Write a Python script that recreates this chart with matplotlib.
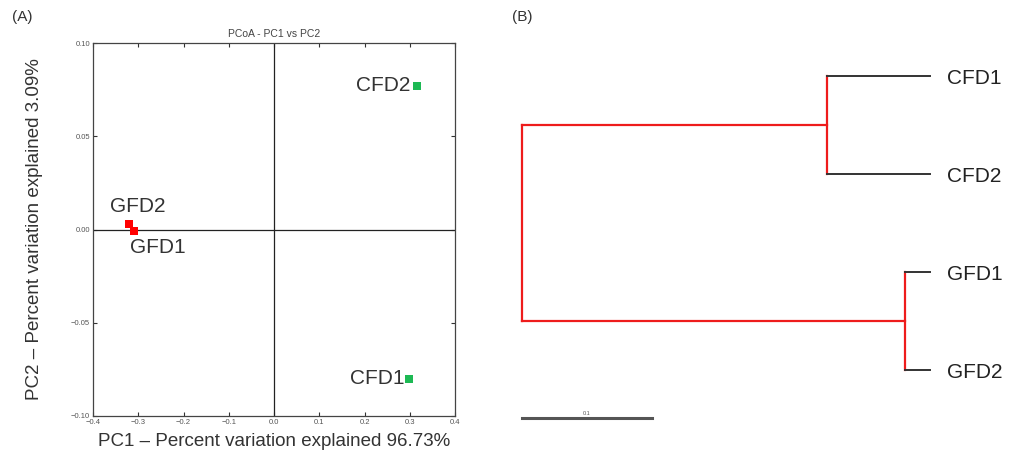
import matplotlib

matplotlib.use("Agg")
import matplotlib.pyplot as plt

plt.rcParams["font.family"] = ["Liberation Sans", "DejaVu Sans"]

# PCoA coordinates (PC1, PC2)
samples = ["CFD2", "CFD1", "GFD2", "GFD1"]
pc1 = [0.316, 0.298, -0.320, -0.309]
pc2 = [0.077, -0.080, 0.003, -0.001]
point_colors = ["#1db954", "#1db954", "#ff0000", "#ff0000"]

x_ticks = [-0.4, -0.3, -0.2, -0.1, 0.0, 0.1, 0.2, 0.3, 0.4]
y_ticks = [-0.10, -0.05, 0.00, 0.05, 0.10]

# Dendrogram: leaves top to bottom, branch lengths
leaves = ["CFD1", "CFD2", "GFD1", "GFD2"]
root_to_cfd = 0.235
cfd_to_leaf = 0.079
root_to_gfd = 0.295
gfd_to_leaf = 0.019
scale_len = 0.1

RED = "#ee1c1c"
DARK = "#333333"

fig = plt.figure(figsize=(10.13, 4.66), dpi=100)

# ---- (A) PCoA scatter ----
ax = fig.add_axes([0.0918, 0.1073, 0.3574, 0.8004])
ax.set_xlim(-0.4, 0.4)
ax.set_ylim(-0.10, 0.10)
ax.axvline(0, color="#222222", lw=0.9)
ax.axhline(0, color="#222222", lw=0.9)
for x, y, c in zip(pc1, pc2, point_colors):
    ax.scatter(x, y, marker="s", s=40, color=c, zorder=3, linewidths=0)

label_offsets = {
    "CFD2": (-5, 0, "right", "center"),
    "CFD1": (-3, 0, "right", "center"),
    "GFD2": (-14, 6, "left", "bottom"),
    "GFD1": (-3, -5, "left", "top"),
}
for name, x, y in zip(samples, pc1, pc2):
    dx, dy, ha, va = label_offsets[name]
    ax.annotate(name, (x, y), xytext=(dx, dy), textcoords="offset points",
                ha=ha, va=va, fontsize=15, color="#333333")

ax.set_xticks(x_ticks)
ax.set_yticks(y_ticks)
ax.set_xticklabels([f"{v:.1f}".replace("-", "\u2212") for v in x_ticks])
ax.set_yticklabels([f"{v:.2f}".replace("-", "\u2212") for v in y_ticks])
ax.tick_params(direction="in", top=True, right=True, length=3, width=0.8,
               labelsize=5.5, labelcolor="#555555", color="#333333", pad=2)
for sp in ax.spines.values():
    sp.set_color("#444444")
    sp.set_linewidth(0.9)
ax.set_title("PCoA - PC1 vs PC2", fontsize=7.5, color="#444444", pad=4)
ax.set_xlabel("PC1 \u2013 Percent variation explained 96.73%", fontsize=13.5,
              color="#333333", labelpad=5)
ax.set_ylabel("PC2 \u2013 Percent variation explained 3.09%", fontsize=13.5,
              color="#333333", labelpad=20)
fig.text(0.012, 0.955, "(A)", fontsize=11, color="#333333")

# ---- (B) dendrogram ----
bx = fig.add_axes([0.4936, 0.0558, 0.5064, 0.8798])
bx.set_xlim(-0.0169, 0.3777)
bx.set_ylim(3.714, -0.469)
bx.axis("off")

leaf_y = list(range(len(leaves)))
cfd_y = (leaf_y[0] + leaf_y[1]) / 2
gfd_y = (leaf_y[2] + leaf_y[3]) / 2
cfd_x = root_to_cfd
gfd_x = root_to_gfd

# root vertical and branches to internal nodes
bx.plot([0, 0], [cfd_y, gfd_y], color=RED, lw=1.6)
bx.plot([0, cfd_x], [cfd_y, cfd_y], color=RED, lw=1.6)
bx.plot([0, gfd_x], [gfd_y, gfd_y], color=RED, lw=1.6)
bx.plot([cfd_x, cfd_x], [leaf_y[0], leaf_y[1]], color=RED, lw=1.6)
bx.plot([gfd_x, gfd_x], [leaf_y[2], leaf_y[3]], color=RED, lw=1.6)
# leaf branches
for i in (0, 1):
    bx.plot([cfd_x, cfd_x + cfd_to_leaf], [leaf_y[i]] * 2, color=DARK, lw=1.4)
for i in (2, 3):
    bx.plot([gfd_x, gfd_x + gfd_to_leaf], [leaf_y[i]] * 2, color=DARK, lw=1.4)
leaf_end = [cfd_x + cfd_to_leaf] * 2 + [gfd_x + gfd_to_leaf] * 2
for name, y in zip(leaves, leaf_y):
    bx.text(max(leaf_end) + 0.013, y + 0.03, name, fontsize=15, va="center",
            ha="left", color="#222222")

# scale bar
bx.plot([0, scale_len], [3.49, 3.49], color="#555555", lw=2.2)
bx.text(scale_len / 2, 3.47, "0.1", fontsize=4, ha="center", va="bottom",
        color="#555555")
fig.text(0.505, 0.955, "(B)", fontsize=11, color="#333333")

fig.savefig("out.png", dpi=100)
